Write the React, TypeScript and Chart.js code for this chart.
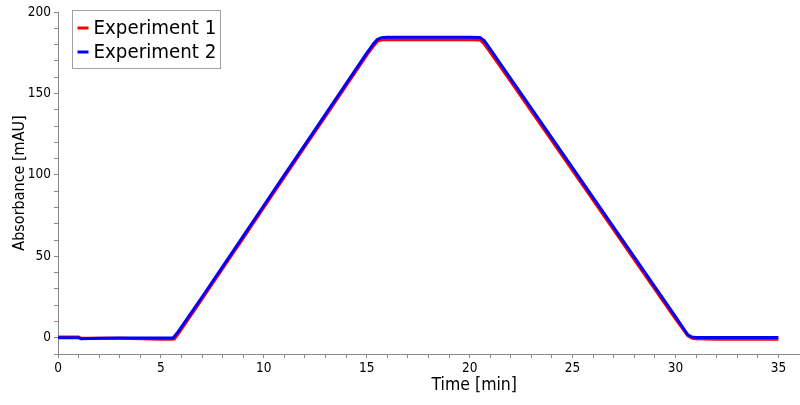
import { useEffect, useRef } from "react";
import { Chart, registerables } from "chart.js";
import type { Plugin } from "chart.js";

Chart.register(...registerables);

const FONT = "'DejaVu Sans Condensed', 'DejaVu Sans', sans-serif";

// Experiment 1 (red)
const time1 = [0, 1.0, 1.1, 2, 3, 4, 5, 5.5, 5.65, 5.85, 7, 8, 9, 10, 11, 12, 13, 14, 15, 15.35, 15.55, 15.75, 17, 18, 19, 20, 20.5, 20.7, 20.9, 22, 24, 26, 28, 30, 30.4, 30.6, 30.8, 31, 32, 33, 34, 35];
const abs1 = [0.5, 0.5, -0.3, -0.3, -0.4, -0.6, -0.9, -1.0, -0.8, 2.5, 23.8, 42.5, 61.2, 80, 98.7, 117.4, 136, 154.8, 173.5, 179.5, 182.3, 183, 183, 183, 183, 183, 182.8, 180.5, 177, 157.3, 120.8, 84.4, 48, 11.6, 4.6, 1.2, -0.3, -0.7, -0.9, -1.0, -1.0, -1.0];

// Experiment 2 (blue)
const time2 = [0, 1.0, 1.1, 2, 3, 4, 5, 5.5, 5.6, 5.8, 7, 8, 9, 10, 11, 12, 13, 14, 15, 15.3, 15.5, 15.7, 16, 18, 20, 20.5, 20.7, 20.9, 22, 24, 26, 28, 30, 30.4, 30.6, 30.8, 31, 32, 33, 34, 35];
const abs2 = [0, 0, -0.6, -0.3, -0.2, -0.2, -0.2, -0.2, 0, 3, 25, 43.7, 62.4, 81.2, 100, 118.6, 137.3, 156, 174.8, 180, 183, 184.2, 184.5, 184.5, 184.5, 184.3, 182.5, 179, 159, 122.5, 86, 49.5, 13, 5.5, 1.8, 0.4, 0.2, 0.2, 0.2, 0.2, 0.2];

const seriesNames = ["Experiment 1", "Experiment 2"];
const seriesColors = ["#ff0000", "#0000ff"];

const xTitle = "Time [min]";
const yTitle = "Absorbance [mAU]";

const toPoints = (t: number[], v: number[]) => t.map((x, i) => ({ x, y: v[i] }));

// legend box in the top-left corner of the plot, plus the x-axis title
const overlay: Plugin<"line"> = {
  id: "overlay",
  afterDraw(chart) {
    const { ctx, chartArea } = chart;
    ctx.save();

    const bx = chartArea.left + 14.5;
    const by = 10.5;
    ctx.fillStyle = "#ffffff";
    ctx.fillRect(bx, by, 148, 58);
    ctx.strokeStyle = "#a0a0a0";
    ctx.lineWidth = 1;
    ctx.strokeRect(bx, by, 148, 58);

    ctx.font = `20.3px ${FONT}`;
    ctx.textBaseline = "middle";
    seriesNames.forEach((name, i) => {
      const y = 28 + i * 24;
      ctx.strokeStyle = seriesColors[i];
      ctx.lineWidth = 3;
      ctx.beginPath();
      ctx.moveTo(bx + 5, y);
      ctx.lineTo(bx + 16, y);
      ctx.stroke();
      ctx.fillStyle = "#000000";
      ctx.fillText(name, bx + 21, y + 1);
    });

    ctx.font = `17.5px ${FONT}`;
    ctx.textAlign = "center";
    ctx.fillText(xTitle, chartArea.left + (chartArea.right - chartArea.left) * 0.561, 385);
    ctx.restore();
  },
};

export default function App() {
  const canvasRef = useRef<HTMLCanvasElement>(null);
  const chartRef = useRef<Chart | null>(null);

  useEffect(() => {
    document.body.style.margin = "0";
    if (!canvasRef.current) return;
    chartRef.current?.destroy();

    chartRef.current = new Chart(canvasRef.current, {
      type: "line",
      data: {
        datasets: [
          {
            label: seriesNames[0],
            data: toPoints(time1, abs1),
            borderColor: seriesColors[0],
            borderWidth: 3,
            pointRadius: 0,
            tension: 0,
            borderJoinStyle: "round",
            order: 1,
          },
          {
            label: seriesNames[1],
            data: toPoints(time2, abs2),
            borderColor: seriesColors[1],
            borderWidth: 3,
            pointRadius: 0,
            tension: 0,
            borderJoinStyle: "round",
            order: 0,
          },
        ],
      },
      options: {
        animation: false,
        responsive: false,
        layout: { padding: { top: 12, right: 0, left: 0, bottom: 0 } },
        plugins: { legend: { display: false }, tooltip: { enabled: false } },
        scales: {
          x: {
            type: "linear",
            min: 0,
            max: 36.05,
            afterBuildTicks: (s) => { s.ticks = s.ticks.filter((t) => Number.isInteger(t.value)); },
            afterFit: (s) => { s.height = 51; },
            ticks: {
              stepSize: 1,
              autoSkip: false,
              maxRotation: 0,
              padding: 2,
              color: "#000",
              font: { family: FONT, size: 13.5 },
              callback: (v) => (Number(v) % 5 === 0 ? String(v) : ""),
            },
            grid: { drawOnChartArea: false, drawTicks: true, tickLength: 4, color: "#888" },
            border: { display: true, color: "#888" },
          },
          y: {
            min: -10,
            max: 200,
            afterFit: (s) => { s.width = 58; },
            ticks: {
              stepSize: 10,
              autoSkip: false,
              padding: 3,
              color: "#000",
              font: { family: FONT, size: 13.5 },
              callback: (v) => (Number(v) % 50 === 0 ? String(v) : ""),
            },
            grid: { drawOnChartArea: false, drawTicks: true, tickLength: 4, color: "#888" },
            border: { display: true, color: "#888" },
            title: {
              display: true,
              text: yTitle,
              color: "#000",
              font: { family: FONT, size: 16 },
              padding: { top: 10, bottom: 0 },
            },
          },
        },
      },
      plugins: [overlay],
    });

    return () => { chartRef.current?.destroy(); };
  }, []);

  return <canvas ref={canvasRef} width={800} height={405} style={{ display: "block" }} />;
}
